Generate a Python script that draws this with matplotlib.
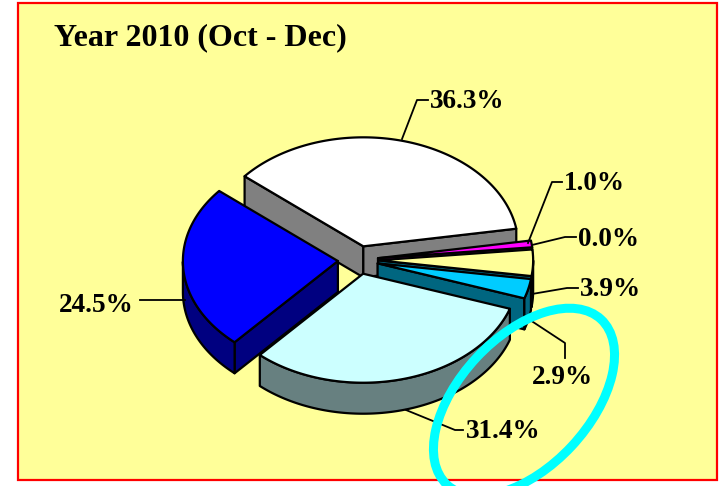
import numpy as np
import matplotlib
matplotlib.use("Agg")
import matplotlib.pyplot as plt
from matplotlib.patches import Polygon, Rectangle, Ellipse

# data (clockwise order of slices)
slice_names = ["A", "B", "C", "D", "E", "F", "G"]
values = [36.3, 1.0, 0.0, 3.9, 2.9, 31.4, 24.5]
labels = ["36.3%", "1.0%", "0.0%", "3.9%", "2.9%", "31.4%", "24.5%"]
top_colors = ["#FFFFFF", "#FF00FF", "#FFFFFF", "#FFFF99", "#00CCFF", "#CCFFFF", "#0000FF"]
side_colors = ["#808080", "#800080", "#808080", "#006680", "#006680", "#678080", "#000080"]
title = "Year 2010 (Oct - Dec)"

# layout
W, H = 720, 486
BG = "#FFFF99"
cx, cy, rx, ry, depth, explode, start = 358, 260, 155, 109, 31, 0.13, 140
draw_order = [0, 1, 3, 4, 6, 5]
leaders = [
    [(402, 139), (417, 100), (428, 100)],
    [(528, 243), (552, 182), (562, 182)],
    [(532, 245), (565, 237), (576, 237)],
    [(532, 294), (567, 288), (578, 288)],
    [(530, 320), (565, 343), (565, 358)],
    [(406, 410), (455, 430), (463, 430)],
    [(185, 300), (140, 300)],
]
label_pos = [(430, 101), (564, 183), (578, 239), (580, 289), (532, 377), (466, 431), (59, 305)]

plt.rcParams["font.family"] = ["Liberation Serif", "DejaVu Serif"]
fig = plt.figure(figsize=(W / 100, H / 100), dpi=100, facecolor="white")
ax = fig.add_axes([0, 0, 1, 1])
ax.set_xlim(0, W)
ax.set_ylim(H, 0)
ax.axis("off")

ax.add_patch(Rectangle((18, 3), 699, 477, fc=BG, ec="#FF0000", lw=1.6, zorder=0))

edges = start - np.cumsum([0] + values) * 3.6
LW = 1.6


def arc(tx, ty, a, b, dy=0.0):
    t = np.radians(np.linspace(a, b, max(int(abs(a - b)) * 2, 2) + 1))
    return np.column_stack([tx + rx * np.cos(t), ty - ry * np.sin(t) + dy])


def draw_slice(i, z):
    a, b = edges[i], edges[i + 1]
    mid = np.radians((a + b) / 2)
    tx = cx + explode * rx * np.cos(mid)
    ty = cy - explode * ry * np.sin(mid)
    side, top = side_colors[i], top_colors[i]
    pa = arc(tx, ty, a, a)[0]
    pb = arc(tx, ty, b, b)[0]
    tip = np.array([tx, ty])
    d = np.array([0, depth])
    # a radial wall is drawn only when it faces the viewer
    if np.cos(np.radians(a)) < 0:
        ax.add_patch(Polygon([tip, pa, pa + d, tip + d], fc=side, ec="black", lw=LW, joinstyle="round", zorder=z))
    if np.cos(np.radians(b)) > 0:
        ax.add_patch(Polygon([tip, pb, pb + d, tip + d], fc=side, ec="black", lw=LW, joinstyle="round", zorder=z))
    # outer rim: only the front half of the ellipse is seen
    t = np.linspace(a, b, int(abs(a - b)) * 2 + 2)
    front = t[np.sin(np.radians(t)) <= 0]
    if front.size > 1:
        up = arc(tx, ty, front[0], front[-1])
        poly = np.vstack([up, (up + d)[::-1]])
        ax.add_patch(Polygon(poly, fc=side, ec="black", lw=LW, joinstyle="round", zorder=z))
    poly = np.vstack([tip, arc(tx, ty, a, b)])
    ax.add_patch(Polygon(poly, fc=top, ec="black", lw=LW, joinstyle="round", zorder=z + 0.5))


for n, i in enumerate(draw_order):
    draw_slice(i, 2 + n)

for pts, txt, pos in zip(leaders, labels, label_pos):
    xs, ys = zip(*pts)
    ax.plot(xs, ys, color="black", lw=1.3, zorder=12)
    ax.text(pos[0], pos[1], txt, fontsize=19.5, fontweight="bold", ha="left", va="center", zorder=13)

ax.text(54, 38, title, fontsize=23, fontweight="bold", ha="left", va="center", zorder=13)

ax.add_patch(Ellipse((524, 402), 226, 130, angle=-47, fc="none", ec="#00FFFF", lw=6.5, zorder=14, clip_on=True))

fig.savefig("out.png", dpi=100, facecolor="white")
